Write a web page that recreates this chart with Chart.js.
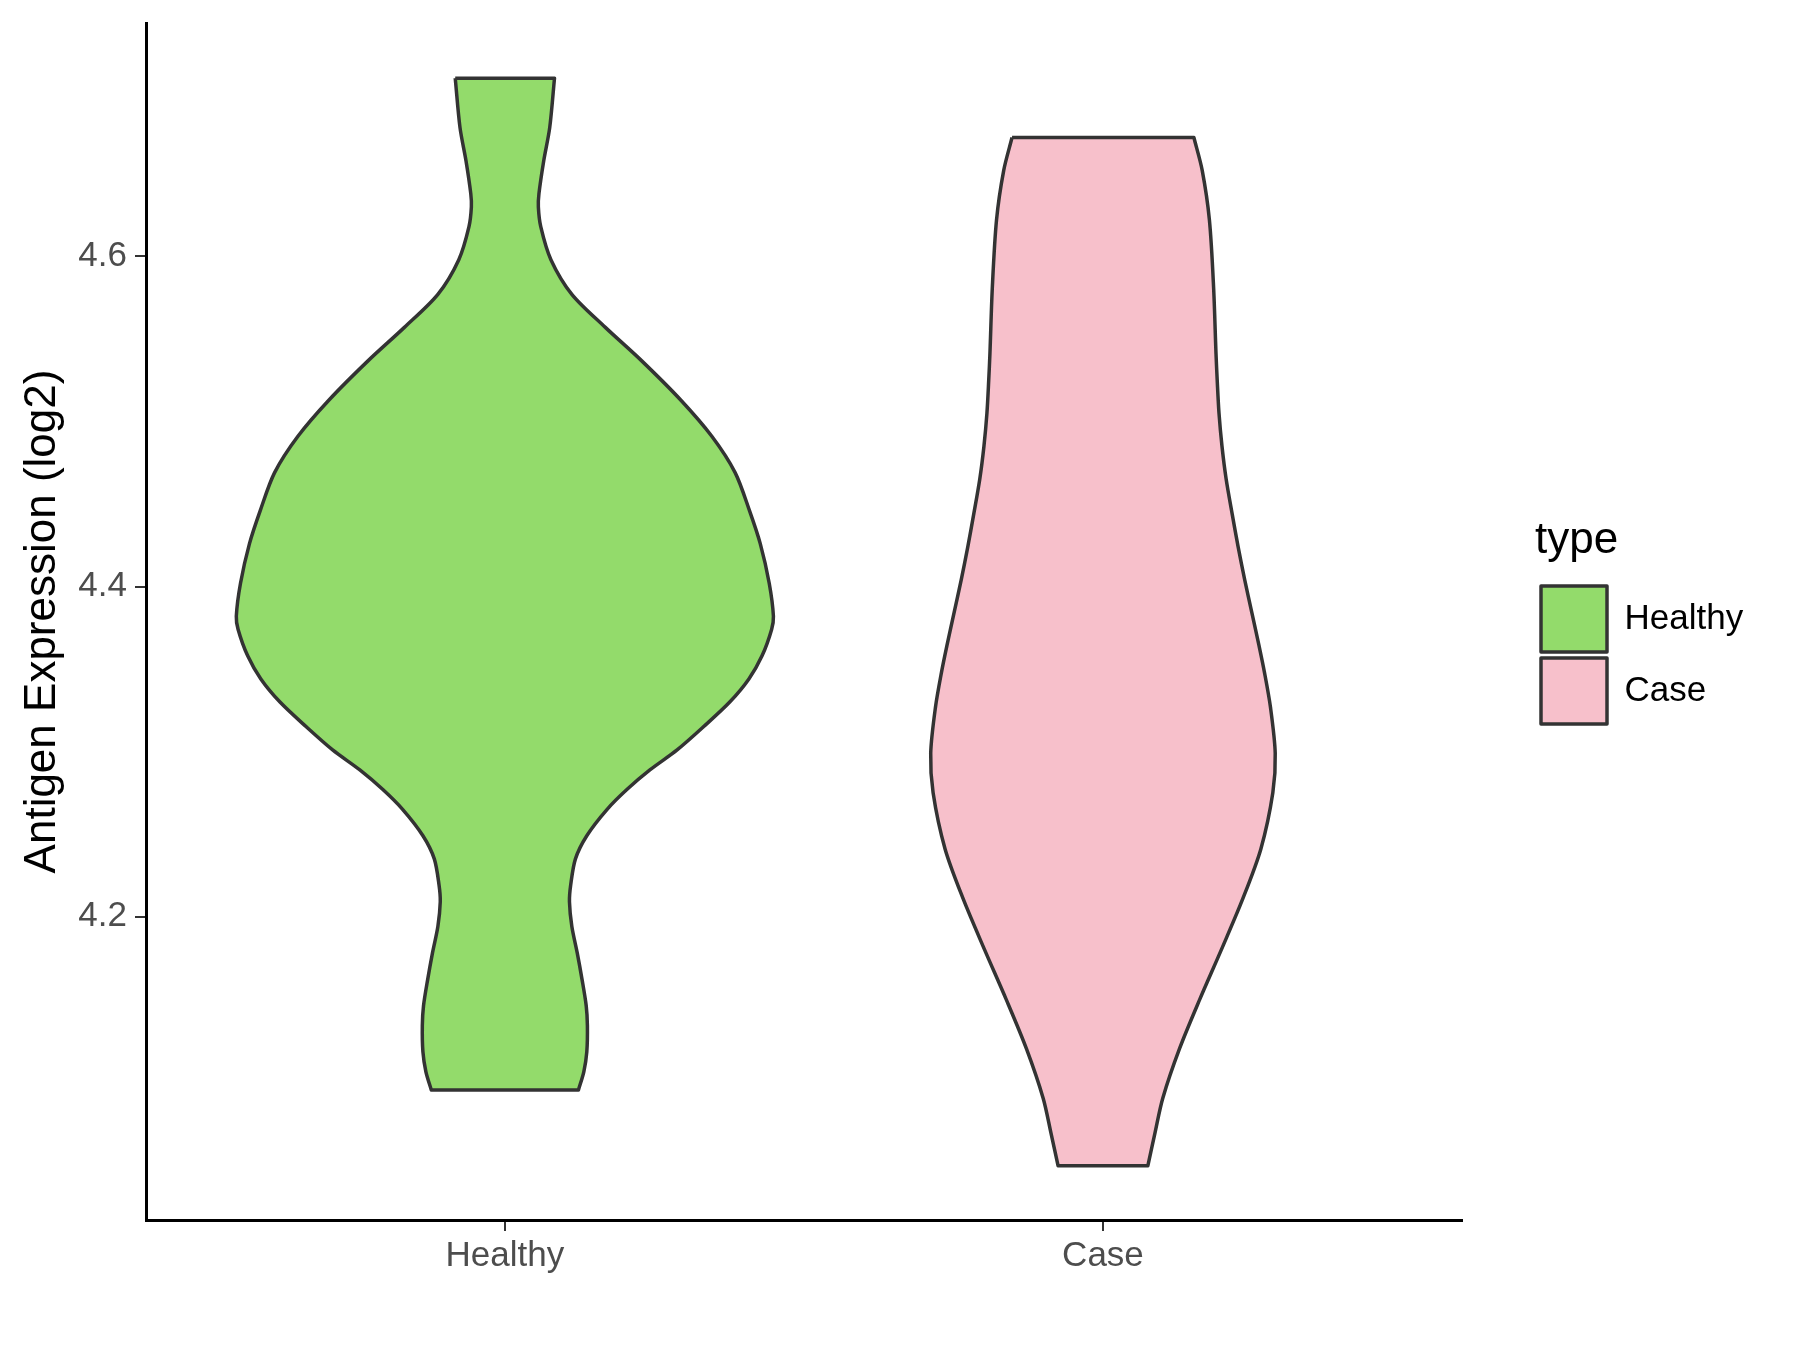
<!DOCTYPE html>
<html>
<head>
<meta charset="utf-8">
<title>Antigen Expression violin</title>
<script src="https://cdn.jsdelivr.net/npm/chart.js@4.4.1/dist/chart.umd.min.js"></script>
<style>
    html, body { margin: 0; padding: 0; background: #ffffff; }
    #wrap { width: 1800px; height: 1350px; }
</style>
</head>
<body>
<div id="wrap"><canvas id="violin" width="1800" height="1350"></canvas></div>
<script>
// categories on the x axis (also the legend entries)
const categories = ['Healthy', 'Case'];
const yTicks = [4.2, 4.4, 4.6];

// violin outlines: y value and half width (in x units)
const healthyY = [4.708, 4.678, 4.658, 4.638, 4.630, 4.618, 4.598, 4.577, 4.557, 4.537,
    4.513, 4.491, 4.469, 4.446, 4.426, 4.402, 4.382, 4.374, 4.358, 4.344, 4.330, 4.315,
    4.301, 4.289, 4.277, 4.265, 4.249, 4.235, 4.219, 4.209, 4.194, 4.178, 4.162, 4.146,
    4.134, 4.118, 4.106, 4.095];
const healthyHalf = [0.083, 0.075, 0.065, 0.057, 0.056, 0.060, 0.077, 0.112, 0.168, 0.228,
    0.294, 0.346, 0.385, 0.409, 0.427, 0.442, 0.449, 0.446, 0.430, 0.408, 0.376, 0.332,
    0.288, 0.243, 0.204, 0.171, 0.137, 0.118, 0.110, 0.108, 0.112, 0.121, 0.129, 0.136,
    0.138, 0.137, 0.132, 0.123];

const caseY = [4.672, 4.652, 4.622, 4.581, 4.541, 4.525, 4.505, 4.485, 4.465, 4.444,
    4.424, 4.404, 4.384, 4.364, 4.348, 4.327, 4.299, 4.275, 4.241, 4.211, 4.180, 4.150,
    4.120, 4.090, 4.069, 4.049];
const caseHalf = [0.152, 0.166, 0.178, 0.185, 0.189, 0.191, 0.194, 0.199, 0.206, 0.216,
    0.226, 0.237, 0.249, 0.261, 0.270, 0.280, 0.288, 0.284, 0.264, 0.234, 0.198, 0.162,
    0.128, 0.100, 0.087, 0.075];

const fillColors = ['#93DB6B', '#F7C0CB'];

// build a closed outline: down the left side, up the right side, back to start.
// corner points are repeated so the flat top / bottom edges stay straight
function violinPoints(center, ys, half) {
    const pts = [];
    const n = ys.length;
    for (let i = 0; i < n; i++) {
        pts.push({ x: center - half[i], y: ys[i] });
    }
    pts.push({ x: center - half[n - 1], y: ys[n - 1] });
    pts.push({ x: center + half[n - 1], y: ys[n - 1] });
    for (let i = n - 1; i >= 0; i--) {
        pts.push({ x: center + half[i], y: ys[i] });
    }
    pts.push({ x: center + half[0], y: ys[0] });
    pts.push({ x: center - half[0], y: ys[0] });
    return pts;
}

const outlines = [
    violinPoints(1, healthyY, healthyHalf),
    violinPoints(2, caseY, caseHalf)
];

const fontFamily = "'Liberation Sans', Arial, sans-serif";

// push the legend a bit right of the plot (and a touch lower), like ggplot does
const legendShift = {
    id: 'legendShift',
    afterLayout(chart) {
        const lg = chart.legend;
        if (!lg) return;
        const dx = 1535 - lg.left;
        lg.left += dx;
        lg.right += dx;
        lg.top += 3;
        lg.bottom += 3;
    }
};

const ctx = document.getElementById('violin').getContext('2d');
new Chart(ctx, {
    type: 'line',
    data: {
        datasets: categories.map((name, i) => ({
            label: name,
            data: outlines[i],
            backgroundColor: fillColors[i],
            borderColor: '#333333',
            borderWidth: 3.5,
            borderJoinStyle: 'round',
            fill: 'shape',
            tension: 0.3,
            pointRadius: 0,
            pointHoverRadius: 0
        }))
    },
    options: {
        responsive: false,
        devicePixelRatio: 1,
        animation: false,
        events: [],
        layout: {
            padding: { top: 23, left: 0, right: 120, bottom: 0 }
        },
        scales: {
            x: {
                type: 'linear',
                min: 0.4,
                max: 2.6,
                afterBuildTicks: (scale) => {
                    scale.ticks = categories.map((c, i) => ({ value: i + 1 }));
                },
                afterFit: (scale) => { scale.height = 130; },
                ticks: {
                    callback: (value) => categories[Math.round(value) - 1] || '',
                    color: '#4D4D4D',
                    font: { family: fontFamily, size: 35 },
                    padding: 4,
                    maxRotation: 0
                },
                grid: {
                    display: true,
                    drawOnChartArea: false,
                    drawTicks: true,
                    tickLength: 11,
                    color: '#333333',
                    lineWidth: 2
                },
                border: { display: true, color: '#000000', width: 3 }
            },
            y: {
                type: 'linear',
                min: 4.0162,
                max: 4.7414,
                afterBuildTicks: (scale) => {
                    scale.ticks = yTicks.map(v => ({ value: v }));
                },
                afterFit: (scale) => {
                    scale.width = 146;
                    // tick labels sit well inside the range, no extra room needed
                    scale.paddingTop = 0;
                    scale.paddingBottom = 0;
                },
                ticks: {
                    callback: (value) => value.toFixed(1),
                    color: '#4D4D4D',
                    font: { family: fontFamily, size: 35 },
                    padding: 8
                },
                grid: {
                    display: true,
                    drawOnChartArea: false,
                    drawTicks: true,
                    tickLength: 11,
                    color: '#333333',
                    lineWidth: 2
                },
                border: { display: true, color: '#000000', width: 3 },
                title: {
                    display: true,
                    text: 'Antigen Expression (log2)',
                    color: '#000000',
                    font: { family: fontFamily, size: 44, lineHeight: 1.2 },
                    padding: { top: 16, bottom: 0 }
                }
            }
        },
        plugins: {
            tooltip: { enabled: false },
            legend: {
                display: true,
                position: 'right',
                fullSize: false,
                align: 'center',
                title: {
                    display: true,
                    text: 'type',
                    color: '#000000',
                    position: 'start',
                    font: { family: fontFamily, size: 44 },
                    padding: { top: 0, bottom: 8 }
                },
                labels: {
                    boxWidth: 66,
                    boxHeight: 66,
                    padding: 6,
                    color: '#000000',
                    font: { family: fontFamily, size: 35 }
                }
            }
        }
    },
    plugins: [legendShift]
});
</script>
</body>
</html>
